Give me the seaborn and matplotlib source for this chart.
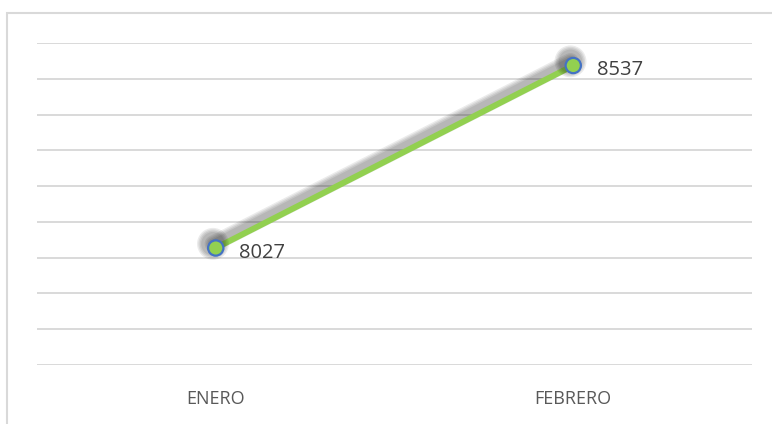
import matplotlib
matplotlib.use('Agg')
import matplotlib.pyplot as plt
import matplotlib.patheffects as pe
import pandas as pd
import seaborn as sns

# Data
months = ['ENERO', 'FEBRERO']
values = [8027, 8537]

df = pd.DataFrame({'mes': months, 'valor': values})

sns.set_style('white')
plt.rcParams['font.family'] = ['Open Sans', 'DejaVu Sans']

fig = plt.figure(figsize=(7.72, 4.24), dpi=100)
ax = fig.add_axes([37 / 772, 59 / 424, 715 / 772, 322 / 424])

# light outer frame (only top and left visible in the original)
fig.add_artist(plt.Rectangle((6.5 / 772, -0.05), 1.1, 1.05 - 13.5 / 424, transform=fig.transFigure,
                             fill=False, edgecolor='#D9D9D9', linewidth=1.5, clip_on=False))

# shadow layers for soft blur effect
shadow = [pe.SimpleLineShadow(offset=(-2, 3), shadow_color='black', alpha=0.08, linewidth=w)
          for w in (12, 10, 8, 6)] + [pe.Normal()]

sns.lineplot(data=df, x='mes', y='valor', ax=ax, color='#92D050', linewidth=4.3, sort=False,
             marker='o', markersize=11, markerfacecolor='#92D050', markeredgecolor='#4472C4',
             markeredgewidth=1.6, path_effects=shadow)

for i, v in enumerate(values):
    ax.annotate(str(v), (i, v), xytext=(17, -3.5), textcoords='offset points', va='center', ha='left',
                fontsize=14.5, color='#404040')

ax.set_xlim(-0.5, 1.5)
ax.set_ylim(7700, 8600)
ax.set_yticks(range(7700, 8601, 100))
ax.yaxis.grid(True, color='#D9D9D9', linewidth=1.4)
ax.set_yticklabels([])
ax.tick_params(axis='y', length=0)
ax.tick_params(axis='x', length=0, pad=18, labelsize=13, labelcolor='#595959')
ax.set_xlabel('')
ax.set_ylabel('')
for s in ax.spines.values():
    s.set_visible(False)

fig.savefig('out.png', dpi=100)
